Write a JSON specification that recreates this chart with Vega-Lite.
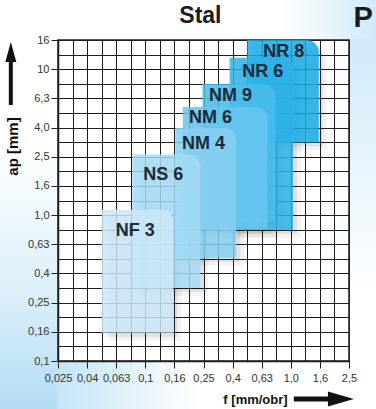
{
  "$schema": "https://vega.github.io/schema/vega-lite/v6.json",
  "width": 291,
  "height": 321,
  "autosize": "none",
  "padding": {"left": 58, "top": 40, "right": 27, "bottom": 48},
  "background": "white",
  "config": {"view": {"stroke": "#1e1e1e", "strokeWidth": 1.5}, "font": "Liberation Sans"},
  "datasets": {
    "boxes": [
      {"label": "NR 8", "x1": 0.5, "x2": 1.55, "y1": 3.14, "y2": 15.85, "lx": 0.89, "ly": 13.2},
      {"label": "NR 6", "x1": 0.378, "x2": 1.03, "y1": 0.79, "y2": 12.0, "lx": 0.638, "ly": 9.5},
      {"label": "NM 9", "x1": 0.246, "x2": 0.78, "y1": 0.9, "y2": 7.9, "lx": 0.384, "ly": 6.6},
      {"label": "NM 6", "x1": 0.18, "x2": 0.69, "y1": 0.8, "y2": 5.5, "lx": 0.279, "ly": 4.6},
      {"label": "NM 4", "x1": 0.16, "x2": 0.42, "y1": 0.51, "y2": 3.95, "lx": 0.25, "ly": 3.05},
      {"label": "NS 6", "x1": 0.081, "x2": 0.238, "y1": 0.317, "y2": 2.6, "lx": 0.132, "ly": 1.89},
      {"label": "NF 3", "x1": 0.05, "x2": 0.155, "y1": 0.156, "y2": 1.09, "lx": 0.085, "ly": 0.78}
    ],
    "headings": [
      {"text": "Stal", "x": 0.238, "y": 23.2, "size": "small"},
      {"text": "P", "x": 3.125, "y": 22.4, "size": "large"}
    ],
    "one": [{}]
  },
  "resolve": {"axis": {"x": "independent", "y": "independent"}},
  "layer": [
    {
      "data": {"name": "one"},
      "mark": {"type": "rect", "fill": {"gradient": "linear", "x1": 0, "y1": 0, "x2": 0, "y2": 1, "stops": [{"offset": 0, "color": "#ffffff"}, {"offset": 0.35, "color": "#ffffff"}, {"offset": 0.7, "color": "#ddf0fa"}, {"offset": 1, "color": "#b3dcf3"}]}},
      "encoding": {
        "x": {"datum": 0.00995, "type": "quantitative", "scale": {"type": "log"}, "axis": null},
        "x2": {"datum": 0.0246},
        "y": {"datum": 0.0469, "type": "quantitative", "scale": {"type": "log"}, "axis": null},
        "y2": {"datum": 29.8}
      }
    },
    {
      "data": {"name": "one"},
      "mark": {"type": "rect", "fill": {"gradient": "linear", "x1": 0, "y1": 0, "x2": 1, "y2": 0, "stops": [{"offset": 0, "color": "#c4e5f7"}, {"offset": 0.45, "color": "#ffffff"}, {"offset": 1, "color": "#ffffff"}]}},
      "encoding": {
        "x": {"datum": 0.0246, "type": "quantitative", "scale": {"type": "log"}, "axis": null},
        "x2": {"datum": 3.9},
        "y": {"datum": 0.0469, "type": "quantitative", "scale": {"type": "log"}, "axis": null},
        "y2": {"datum": 0.0984}
      }
    },
    {
      "data": {"name": "one"},
      "mark": {"type": "rect", "fill": {"gradient": "linear", "x1": 0, "y1": 0, "x2": 1, "y2": 0, "stops": [{"offset": 0, "color": "#ffffff"}, {"offset": 0.7, "color": "#ffffff"}, {"offset": 1, "color": "#cfeaf9"}]}},
      "encoding": {
        "x": {"datum": 0.0246, "type": "quantitative", "scale": {"type": "log"}, "axis": null},
        "x2": {"datum": 3.9},
        "y": {"datum": 16.1, "type": "quantitative", "scale": {"type": "log"}, "axis": null},
        "y2": {"datum": 29.8}
      }
    },
    {
      "data": {"name": "one"},
      "mark": {"type": "rect", "fill": {"gradient": "linear", "x1": 0, "y1": 0, "x2": 0, "y2": 1, "stops": [{"offset": 0, "color": "#cfeaf9"}, {"offset": 0.5, "color": "#eef8fd"}, {"offset": 0.8, "color": "#ffffff"}, {"offset": 1, "color": "#ffffff"}]}},
      "encoding": {
        "x": {"datum": 2.54, "type": "quantitative", "scale": {"type": "log"}, "axis": null},
        "x2": {"datum": 3.9},
        "y": {"datum": 0.0984, "type": "quantitative", "scale": {"type": "log"}, "axis": null},
        "y2": {"datum": 16.1}
      }
    },
    {
      "data": {"name": "boxes"},
      "mark": {"type": "rect", "fill": "#000000", "opacity": 0.05, "cornerRadiusTopRight": 12, "xOffset": 8, "x2Offset": 8, "yOffset": 8, "y2Offset": 8},
      "encoding": {
        "x": {"field": "x1", "type": "quantitative", "scale": {"type": "log"}, "axis": null},
        "x2": {"field": "x2"},
        "y": {"field": "y1", "type": "quantitative", "scale": {"type": "log"}, "axis": null},
        "y2": {"field": "y2"}
      }
    },
    {
      "data": {"name": "boxes"},
      "mark": {"type": "rect", "fill": "#000000", "opacity": 0.07, "cornerRadiusTopRight": 12, "xOffset": 4, "x2Offset": 4, "yOffset": 4, "y2Offset": 4},
      "encoding": {
        "x": {"field": "x1", "type": "quantitative", "scale": {"type": "log"}, "axis": null},
        "x2": {"field": "x2"},
        "y": {"field": "y1", "type": "quantitative", "scale": {"type": "log"}, "axis": null},
        "y2": {"field": "y2"}
      }
    },
    {
      "data": {"name": "boxes"},
      "mark": {"type": "rect", "opacity": 0.85, "cornerRadiusTopRight": 12},
      "encoding": {
        "x": {"field": "x1", "type": "quantitative", "scale": {"type": "log", "domain": [0.025, 2.5], "nice": false},
          "axis": {"orient": "bottom", "values": [0.025, 0.031473, 0.039622, 0.049881, 0.062797, 0.079057, 0.099526, 0.125296, 0.157739, 0.198582, 0.25, 0.314731, 0.396223, 0.498816, 0.627971, 0.790569, 0.995262, 1.252962, 1.577393, 1.985815, 2.5], "grid": true, "gridColor": "#1e1e1e", "gridWidth": 1, "gridOpacity": 1, "labels": false, "ticks": false, "domain": false, "title": null, "zindex": 0}},
        "x2": {"field": "x2"},
        "y": {"field": "y1", "type": "quantitative", "scale": {"type": "log", "domain": [0.1, 15.848932], "nice": false},
          "axis": {"orient": "left", "values": [0.1, 0.125893, 0.158489, 0.199526, 0.251189, 0.316228, 0.398107, 0.501187, 0.630957, 0.794328, 1, 1.258925, 1.584893, 1.995262, 2.511886, 3.162278, 3.981072, 5.011872, 6.309573, 7.943282, 10, 12.589254, 15.848932], "grid": true, "gridColor": "#1e1e1e", "gridWidth": 1, "gridOpacity": 1, "labels": false, "ticks": false, "domain": false, "title": null, "zindex": 0}},
        "y2": {"field": "y2"},
        "color": {"field": "label", "type": "nominal", "legend": null,
          "scale": {"domain": ["NR 8", "NR 6", "NM 9", "NM 6", "NM 4", "NS 6", "NF 3"], "range": ["#16ace6", "#2db3e9", "#4bbceb", "#69c6ee", "#86d0f1", "#a5dbf4", "#cbe8f8"]}}
      }
    },
    {
      "data": {"name": "boxes"},
      "mark": {"type": "text", "font": "Liberation Sans", "fontSize": 18, "fontWeight": "bold", "color": "#1b2a38", "baseline": "middle", "align": "center"},
      "encoding": {
        "x": {"field": "lx", "type": "quantitative", "scale": {"type": "log"},
          "axis": {"orient": "bottom", "values": [0.025, 0.039622, 0.062797, 0.099526, 0.157739, 0.25, 0.396223, 0.627971, 0.995262, 1.577393, 2.5], "grid": false,
            "labelExpr": "['0,025','0,04','0,063','0,1','0,16','0,25','0,4','0,63','1,0','1,6','2,5'][round(log(datum.value/0.025)/log(10)*5)]",
            "labelFont": "Liberation Sans", "labelFontSize": 11, "labelColor": "#333333", "labelPadding": 4, "labelFlush": false, "labelOverlap": false,
            "tickSize": 7, "tickColor": "#1e1e1e", "domain": true, "domainColor": "#1e1e1e", "domainWidth": 1.5,
            "title": "f [mm/obr]", "titleFont": "Liberation Sans", "titleFontSize": 13, "titleFontWeight": "bold", "titleColor": "#111111",
            "titleX": 197, "titleY": 38, "titleAlign": "center", "titleBaseline": "middle", "zindex": 1}},
        "y": {"field": "ly", "type": "quantitative", "scale": {"type": "log"},
          "axis": {"orient": "left", "values": [0.1, 0.158489, 0.251189, 0.398107, 0.630957, 1, 1.584893, 2.511886, 3.981072, 6.309573, 10, 15.848932], "grid": false,
            "labelExpr": "['0,1','0,16','0,25','0,4','0,63','1,0','1,6','2,5','4,0','6,3','10','16'][round(log(datum.value/0.1)/log(10)*5)]",
            "labelFont": "Liberation Sans", "labelFontSize": 11, "labelColor": "#333333", "labelPadding": 2, "labelFlush": false, "labelOverlap": false,
            "tickSize": 7, "tickColor": "#1e1e1e", "domain": true, "domainColor": "#1e1e1e", "domainWidth": 1.5,
            "title": "ap [mm]", "titleFont": "Liberation Sans", "titleFontSize": 15, "titleFontWeight": "bold", "titleColor": "#111111",
            "titleX": -46, "titleY": 106, "titleAlign": "center", "titleBaseline": "middle", "titleAngle": 270, "zindex": 1}},
        "text": {"field": "label"}
      }
    },
    {
      "data": {"name": "one"},
      "mark": {"type": "rule", "strokeWidth": 4, "color": "#111111"},
      "encoding": {
        "x": {"datum": 0.01185, "type": "quantitative", "scale": {"type": "log"}, "axis": null},
        "y": {"datum": 5.68, "type": "quantitative", "scale": {"type": "log"}, "axis": null},
        "y2": {"datum": 11.94}
      }
    },
    {
      "data": {"name": "one"},
      "mark": {"type": "point", "shape": "M-0.55,1L0,-1L0.55,1Z", "size": 400, "filled": true, "color": "#111111", "opacity": 1},
      "encoding": {
        "x": {"datum": 0.01185, "type": "quantitative", "scale": {"type": "log"}, "axis": null},
        "y": {"datum": 13.1, "type": "quantitative", "scale": {"type": "log"}, "axis": null}
      }
    },
    {
      "data": {"name": "one"},
      "mark": {"type": "rule", "strokeWidth": 5, "color": "#111111"},
      "encoding": {
        "x": {"datum": 1.044, "type": "quantitative", "scale": {"type": "log"}, "axis": null},
        "x2": {"datum": 1.9},
        "y": {"datum": 0.0549, "type": "quantitative", "scale": {"type": "log"}, "axis": null}
      }
    },
    {
      "data": {"name": "one"},
      "mark": {"type": "point", "shape": "M-1,-0.58L1,0L-1,0.58Z", "size": 676, "filled": true, "color": "#111111", "opacity": 1},
      "encoding": {
        "x": {"datum": 2.2, "type": "quantitative", "scale": {"type": "log"}, "axis": null},
        "y": {"datum": 0.0549, "type": "quantitative", "scale": {"type": "log"}, "axis": null}
      }
    },
    {
      "data": {"name": "headings"},
      "mark": {"type": "text", "font": "Liberation Sans", "fontWeight": "bold", "color": "#1a1a1a", "baseline": "middle", "align": "center"},
      "encoding": {
        "x": {"field": "x", "type": "quantitative", "scale": {"type": "log"}, "axis": null},
        "y": {"field": "y", "type": "quantitative", "scale": {"type": "log"}, "axis": null},
        "text": {"field": "text"},
        "size": {"field": "size", "type": "nominal", "legend": null, "scale": {"domain": ["small", "large"], "range": [23, 29]}}
      }
    }
  ]
}
